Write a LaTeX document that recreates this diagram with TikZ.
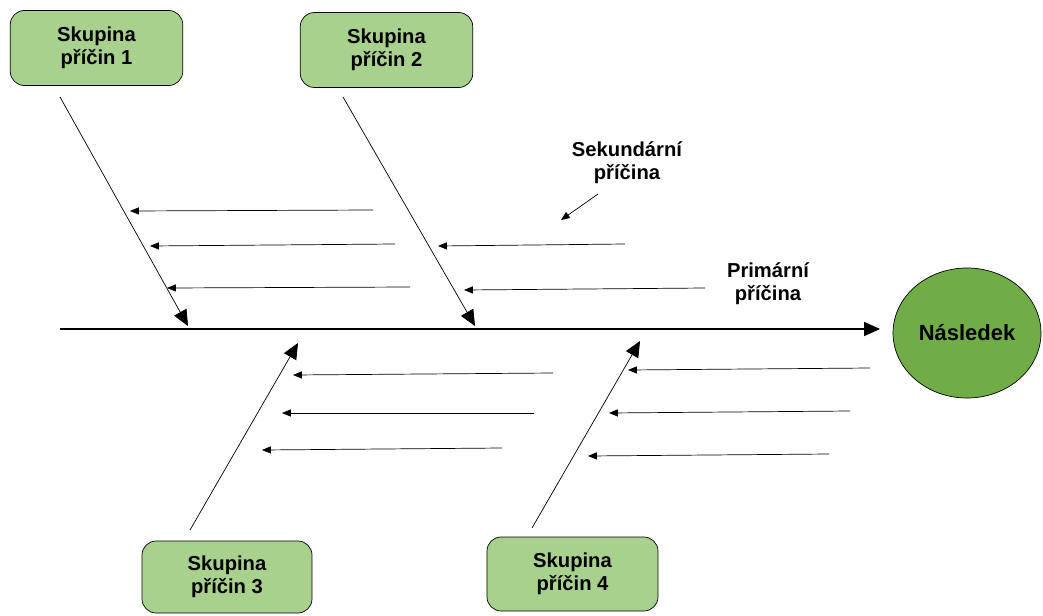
\documentclass[tikz,border=0pt]{standalone}
\usepackage{fontspec}
\setmainfont{Liberation Sans}
\usepackage{xcolor}
\usetikzlibrary{arrows.meta,shapes.geometric}
\definecolor{boxgreen}{HTML}{A9D18E}
\definecolor{effgreen}{HTML}{70AD47}
\tikzset{
  fgroup/.style={draw, rounded corners=8pt, fill=boxgreen, align=center, minimum width=3.45cm, minimum height=1.5cm, inner sep=2pt, font=\bfseries\fontsize{11.5}{13}\selectfont},
  feffect/.style={draw, ellipse, fill=effgreen, minimum width=2.96cm, minimum height=2.6cm, inner sep=0pt, font=\bfseries\fontsize{12.5}{14}\selectfont},
  flabel/.style={align=center, inner sep=1pt, font=\bfseries\fontsize{11.5}{13}\selectfont},
  fspine/.style={-{Triangle[length=9pt,width=8pt]}, semithick},
  fbone/.style={-{Triangle[length=9pt,width=8pt]}, thin},
  fcause/.style={-{Triangle[length=5pt,width=4pt]}, thin}
}
\begin{document}
\begin{tikzpicture}[x=0.02cm,y=-0.02cm]
\useasboundingbox (0,0) rectangle (1043,615);
% groups and effect
\node[fgroup] (g1) at (96.5,48) {Skupina\\příčin 1};
\node[fgroup] (g2) at (386.5,50) {Skupina\\příčin 2};
\node[fgroup, minimum width=3.4cm, minimum height=1.44cm] (g3) at (227,577) {Skupina\\příčin 3};
\node[fgroup, minimum width=3.42cm, minimum height=1.48cm] (g4) at (572.5,574) {Skupina\\příčin 4};
\node[feffect] (eff) at (967,333) {Následek};
\node[flabel] (sec) at (627,163) {Sekundární\\příčina};
\node[flabel] (prim) at (768,284) {Primární\\příčina};
% spine
\coordinate (sp0) at (60,329);
\coordinate (sp1) at (880,329);
\draw[fspine] (sp0) -- (sp1);
% main bones
\coordinate (b1s) at (60,97);   \coordinate (b1e) at (188,326);
\coordinate (b2s) at (343,97);  \coordinate (b2e) at (475,326);
\coordinate (b3s) at (190,530); \coordinate (b3e) at (298,343);
\coordinate (b4s) at (532,528); \coordinate (b4e) at (640,341);
\draw[fbone] (b1s) -- (b1e);
\draw[fbone] (b2s) -- (b2e);
\draw[fbone] (b3s) -- (b3e);
\draw[fbone] (b4s) -- (b4e);
% secondary causes
\foreach \i/\xa/\ya/\xb/\yb in {1/373/210/130/211, 2/395/244/150/246, 3/410/287/167/288,
  4/625/244/438/246, 5/705/288/464/290,
  6/553/373/293/375, 7/534/413/282/413, 8/502/448/262/450,
  9/870/368/628/370, 10/850/411/609/413, 11/829/454/588/456}{
  \coordinate (c\i s) at (\xa,\ya);
  \coordinate (c\i e) at (\xb,\yb);
  \draw[fcause] (c\i s) -- (c\i e);
}
\coordinate (pt) at (561,220);
\draw[fcause] ([shift={(-29,8)}]sec.south) -- (pt);
\end{tikzpicture}
\end{document}
